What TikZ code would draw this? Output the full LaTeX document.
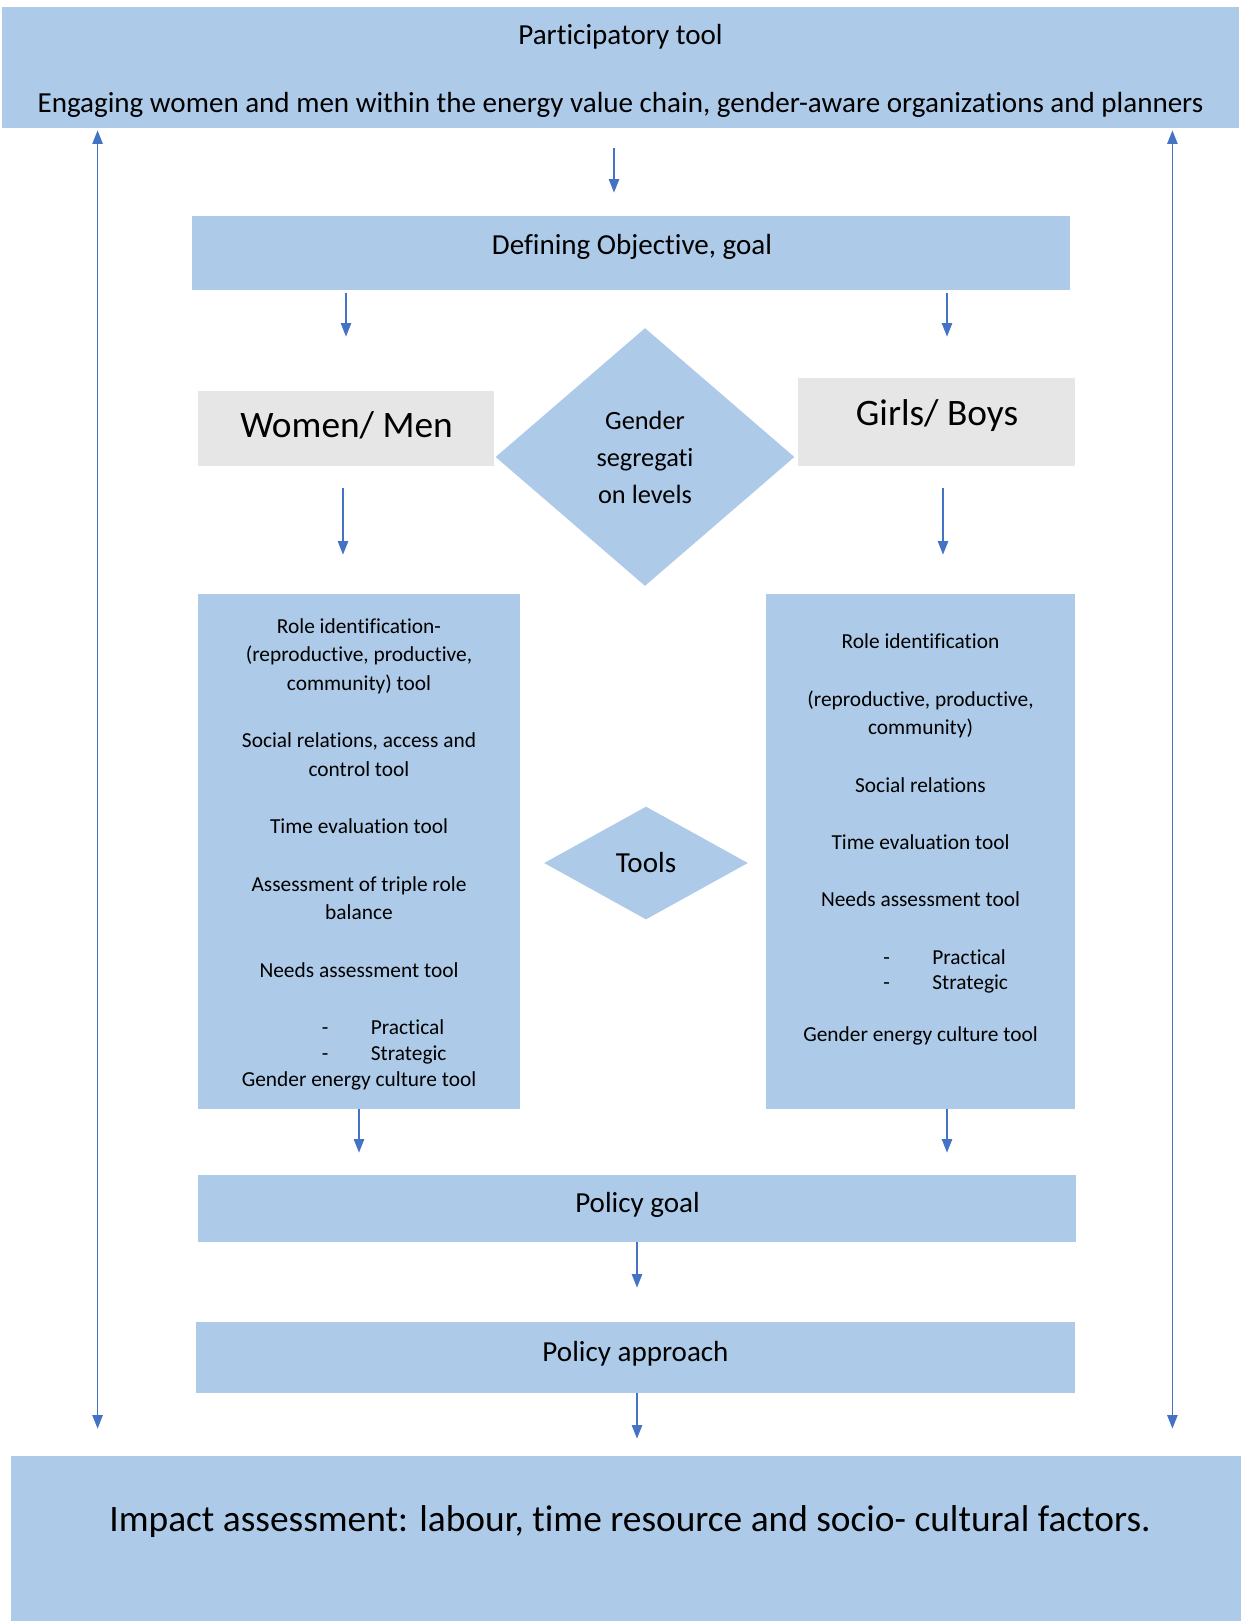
\documentclass[tikz,border=0pt]{standalone}
\usepackage{fontspec}
\setmainfont{Carlito}[Ligatures=NoCommon]
\usetikzlibrary{arrows.meta,calc,shapes.geometric}

\definecolor{boxblue}{HTML}{ADCBE9}
\definecolor{boxgrey}{HTML}{E6E6E6}
\definecolor{arrblue}{HTML}{4472C4}

\tikzset{
  box/.style={fill=boxblue, inner sep=0pt},
  greybox/.style={fill=boxgrey, inner sep=0pt},
  boxsize/.style 2 args={minimum width=#1*0.48bp, minimum height=#2*0.48bp},
  arr/.style={draw=arrblue, line width=0.6bp, -{Triangle[length=6.5bp,width=5bp]}},
  twoarr/.style={draw=arrblue, line width=0.6bp, {Triangle[length=6.5bp,width=5bp]}-{Triangle[length=6.5bp,width=5bp]}},
  txt/.style={inner sep=0pt, align=center, font=\fontsize{14}{17}\selectfont},
  bigtxt/.style={inner sep=0pt, font=\fontsize{18}{22}\selectfont},
  smalltxt/.style={inner sep=0pt, align=center, font=\fontsize{10.3}{13.8}\selectfont},
}

% dash line inside the tool lists
\newcommand\dashitem[1]{\makebox[0pt][l]{\hspace*{-17.8bp}\makebox[23.5bp][l]{-}#1}}

\begin{document}
\begin{tikzpicture}[x=0.48bp, y=-0.48bp]
\useasboundingbox (0,0) rectangle (1241,1621);

% Boxes
\node[box, boxsize={1237}{121}] (top) at (620.5,67.5) {};
\node[box, boxsize={878}{74}] (goal) at (631,253) {};
\node[greybox, boxsize={296}{75}] (wm) at (346,428.5) {};
\node[greybox, boxsize={277}{88}] (gb) at (936.5,422) {};
\node[box, boxsize={322}{515}] (lt) at (359,851.5) {};
\node[box, boxsize={309}{515}] (rt) at (920.5,851.5) {};
\node[box, boxsize={878}{67}] (pg) at (637,1208.5) {};
\node[box, boxsize={879}{71}] (pa) at (635.5,1357.5) {};
\node[box, boxsize={1230}{165}] (ia) at (626,1538.5) {};

% Diamonds
\node[box, diamond, boxsize={299}{258}, align=center,
      font=\fontsize{12.7}{17.8}\selectfont] (seg) at (645,457) {Gender\\segregati\\on levels};
\node[box, diamond, boxsize={204}{113}, font=\fontsize{14}{17}\selectfont] (tools) at (646,863) {Tools};

% Texts
\node[txt] (toptxt) at (620.5,71) {Participatory tool\\[15.7bp]Engaging women and men within the energy value chain, gender-aware organizations and planners};
\node[txt] (goaltxt) at (632,247) {Defining Objective, goal};
\node[bigtxt] (wmtxt) at (346.5,425) {Women/ Men};
\node[bigtxt] (gbtxt) at (937,416) {Girls/ Boys};
\node[smalltxt] (ltxt) at (359,854) {Role identification-\\(reproductive, productive,\\community) tool\\[13.8bp]
  Social relations, access and\\control tool\\[13.8bp]
  Time evaluation tool\\[13.8bp]
  Assessment of triple role\\balance\\[13.8bp]
  Needs assessment tool\\[13.8bp]
  \dashitem{Practical}\\[-1.4bp]\dashitem{Strategic}\\[-1.4bp]
  Gender energy culture tool};
\node[smalltxt] (rtxt) at (920.5,839.5) {Role identification\\[13.8bp]
  (reproductive, productive,\\community)\\[13.8bp]
  Social relations\\[13.8bp]
  Time evaluation tool\\[13.8bp]
  Needs assessment tool\\[13.8bp]
  \dashitem{Practical}\\[-1.4bp]\dashitem{Strategic}\\[11bp]
  Gender energy culture tool};
\node[txt] (pgtxt) at (637.5,1205) {Policy goal};
\node[txt] (patxt) at (635.5,1354) {Policy approach};
\node[inner sep=0pt, font=\fontsize{18}{21}\selectfont] (iatxt) at (630,1522) {Impact assessment: labour, time resource and socio- cultural factors.};

% Connectors
\draw[arr] ($(top.south)+(-6.5,20)$) -- ($(goal.north)+(-17,-23)$);
\draw[arr] ($(goal.south)+(-285,3)$) -- ($(wm.north)+(0,-54)$);
\draw[arr] ($(goal.south)+(316,3)$) -- ($(gb.north)+(10.5,-41)$);
\draw[arr] ($(wm.south)+(-3,22)$) -- ($(lt.north)+(-16,-39)$);
\draw[arr] ($(gb.south)+(6.5,22)$) -- ($(rt.north)+(22.5,-39)$);
\draw[arr] (lt.south) -- ($(pg.north)+(-278,-22)$);
\draw[arr] ($(rt.south)+(26.5,0)$) -- ($(pg.north)+(310,-22)$);
\draw[arr] (pg.south) -- ($(pa.north)+(1.5,-34)$);
\draw[arr] ($(pa.south)+(1.5,0)$) -- ($(ia.north)+(11,-17)$);

% Side arrows
\draw[twoarr] ($(top.south west)+(96,2)$) -- ($(ia.north west)+(87,-27)$);
\draw[twoarr] ($(top.south east)+(-67,2)$) -- ($(ia.north east)+(-69,-27)$);

\end{tikzpicture}
\end{document}
